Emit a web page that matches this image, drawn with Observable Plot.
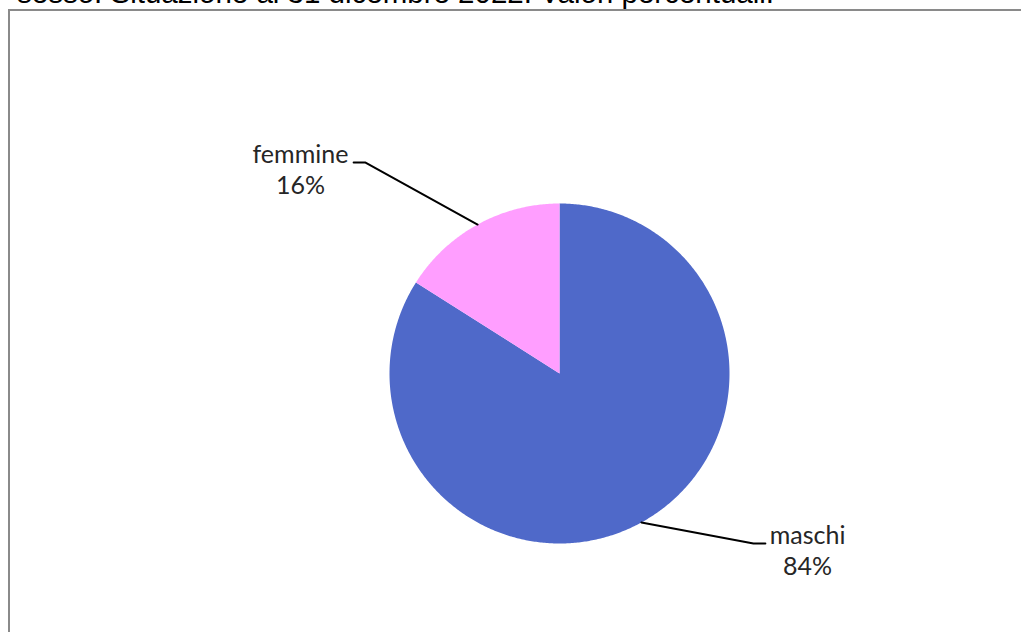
<!DOCTYPE html>
<html><head><meta charset="utf-8">
<script src="https://cdn.jsdelivr.net/npm/d3@7"></script>
<script src="https://cdn.jsdelivr.net/npm/@observablehq/plot@0.6"></script>
<style>
html,body{margin:0;padding:0;background:#fff;overflow:hidden;width:1021px;height:632px;}
#title{position:absolute;left:17px;top:-22px;font:29.5px "Liberation Sans",Arial,sans-serif;color:#000;white-space:nowrap;line-height:30px;}
#frame{position:absolute;left:8px;top:9px;width:1100px;height:700px;border:2px solid #8a8a8a;}
#chart{position:absolute;left:0;top:0;}
</style></head><body>
<div id="title">sesso. Situazione al 31 dicembre 2022. Valori percentuali.</div>
<div id="frame"></div>
<div id="chart"></div>
<script>
// Data
const categories = ["maschi", "femmine"];
const values = [84, 16];
const colors = ["#4f69c9", "#ff9eff"];

// Layout (label elbow positions in pie-radius units, label side)
const elbows = [[1.141, -1.0], [-1.141, 1.241]];
const sides = [1, -1];
const labelGap = [1.459, -1.524]; // label centre x in radius units

const total = d3.sum(values);
let acc = 0;
const slices = categories.map((c, i) => {
  const a0 = acc / total * 2 * Math.PI;
  acc += values[i];
  const a1 = acc / total * 2 * Math.PI;
  return {category: c, value: values[i], a0, a1, color: colors[i], pct: Math.round(values[i] / total * 100)};
});

// polygon points for each slice
const wedgePts = [];
slices.forEach((s, i) => {
  wedgePts.push({k: s.category, x: 0, y: 0});
  const n = Math.max(2, Math.ceil((s.a1 - s.a0) / (Math.PI / 360)));
  for (let j = 0; j <= n; j++) {
    const a = s.a0 + (s.a1 - s.a0) * j / n;
    wedgePts.push({k: s.category, x: Math.sin(a), y: Math.cos(a)});
  }
  wedgePts.push({k: s.category, x: 0, y: 0});
});

const leaderPts = [];
slices.forEach((s, i) => {
  const m = (s.a0 + s.a1) / 2;
  const [ex, ey] = elbows[i];
  leaderPts.push({k: s.category, x: Math.sin(m), y: Math.cos(m)});
  leaderPts.push({k: s.category, x: ex, y: ey});
  leaderPts.push({k: s.category, x: ex + sides[i] * 0.07, y: ey});
});

const labels = slices.map((s, i) => ({x: labelGap[i], y: elbows[i][1], name: s.category, pct: s.pct + "%"}));

const chart = Plot.plot({
  width: 1021,
  height: 632,
  margin: 0,
  x: {domain: [-1, 1], range: [389, 729], axis: null},
  y: {domain: [-1, 1], range: [543, 203], axis: null},
  color: {domain: categories, range: colors},
  style: {background: "transparent", overflow: "visible"},
  marks: [
    Plot.line(wedgePts, {x: "x", y: "y", z: "k", fill: "k", stroke: "none", curve: "linear"}),
    Plot.line(leaderPts, {x: "x", y: "y", z: "k", stroke: "#000", strokeWidth: 2}),
    Plot.text(labels, {x: "x", y: "y", text: "name", textAnchor: "middle", lineAnchor: "bottom", fontSize: 25, fontFamily: "Lato", fill: "#262626"}),
    Plot.text(labels, {x: "x", y: "y", text: "pct", textAnchor: "middle", lineAnchor: "bottom", dy: 31, fontSize: 25, fontFamily: "Lato", fill: "#262626"})
  ]
});
document.getElementById("chart").appendChild(chart);
</script>
</body></html>
